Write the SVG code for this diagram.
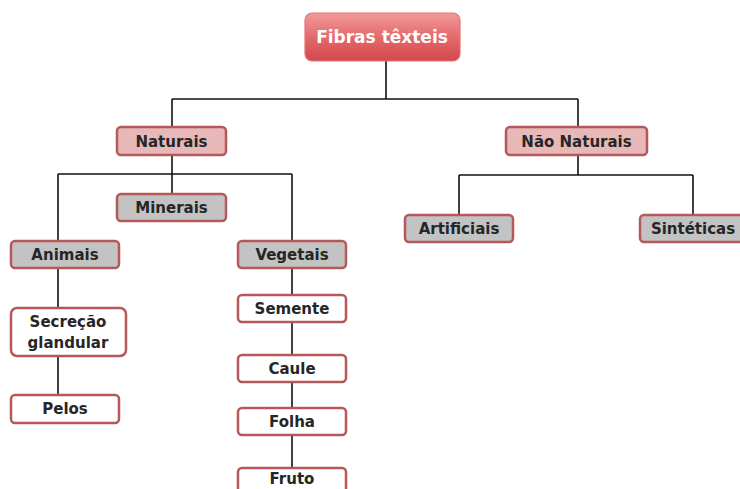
<svg xmlns="http://www.w3.org/2000/svg" width="740" height="489" viewBox="0 0 740 489">
<defs>
<linearGradient id="rootGrad" x1="0" y1="0" x2="0" y2="1">
<stop offset="0" stop-color="#f39a9a"/>
<stop offset="0.5" stop-color="#e36a6c"/>
<stop offset="1" stop-color="#d2484c"/>
</linearGradient>
</defs>
<style>
.box{stroke:#b6575a;stroke-width:2.5}
.pink{fill:#e6b9b8}
.gray{fill:#c3c3c3}
.white{fill:#ffffff}
.lbl{font-family:"DejaVu Sans","Liberation Sans",sans-serif;font-weight:bold;font-size:15px;fill:#262626;text-anchor:middle}
.title{font-family:"DejaVu Sans","Liberation Sans",sans-serif;font-weight:bold;font-size:17px;fill:#ffffff;text-anchor:middle}
.conn line{stroke:#111;stroke-width:1.6}
</style>
<rect width="740" height="489" fill="#ffffff"/>
<g class="conn">
<line x1="386" y1="61" x2="386" y2="99"/>
<line x1="172" y1="99" x2="578" y2="99"/>
<line x1="172" y1="99" x2="172" y2="127"/>
<line x1="578" y1="99" x2="578" y2="127"/>
<line x1="172" y1="155" x2="172" y2="194"/>
<line x1="58" y1="174" x2="292" y2="174"/>
<line x1="58" y1="174" x2="58" y2="241"/>
<line x1="292" y1="174" x2="292" y2="241"/>
<line x1="58" y1="268" x2="58" y2="308"/>
<line x1="58" y1="356" x2="58" y2="395"/>
<line x1="292" y1="268" x2="292" y2="295"/>
<line x1="292" y1="322" x2="292" y2="355"/>
<line x1="292" y1="382" x2="292" y2="408"/>
<line x1="292" y1="435" x2="292" y2="468"/>
<line x1="578" y1="155" x2="578" y2="175"/>
<line x1="459" y1="175" x2="693" y2="175"/>
<line x1="459" y1="175" x2="459" y2="215"/>
<line x1="693" y1="175" x2="693" y2="215"/>
</g>
<g id="fibras">
<rect x="305" y="13" width="155" height="48" rx="7" fill="url(#rootGrad)" stroke="#e27476" stroke-width="1.2"/>
<text class="title" x="382" y="43" font-size="19">Fibras têxteis</text>
</g>
<g id="naturais">
<rect class="box pink" x="117" y="127" width="109" height="28" rx="4"/>
<text class="lbl" x="171.5" y="146.5">Naturais</text>
</g>
<g id="nao-naturais">
<rect class="box pink" x="506" y="127" width="141" height="28" rx="4"/>
<text class="lbl" x="576.5" y="146.5">Não Naturais</text>
</g>
<g id="minerais">
<rect class="box gray" x="117" y="194" width="109" height="27" rx="4"/>
<text class="lbl" x="171.5" y="213">Minerais</text>
</g>
<g id="animais">
<rect class="box gray" x="11" y="241" width="108" height="27" rx="4"/>
<text class="lbl" x="65" y="260">Animais</text>
</g>
<g id="vegetais">
<rect class="box gray" x="238" y="241" width="108" height="27" rx="4"/>
<text class="lbl" x="292" y="260">Vegetais</text>
</g>
<g id="artificiais">
<rect class="box gray" x="405" y="215" width="108" height="27" rx="4"/>
<text class="lbl" x="459" y="234">Artificiais</text>
</g>
<g id="sinteticas">
<rect class="box gray" x="640" y="215" width="110" height="27" rx="4"/>
<text class="lbl" x="693" y="234">Sintéticas</text>
</g>
<g id="secrecao">
<rect class="box white" x="11" y="308" width="115" height="48" rx="6"/>
<text class="lbl" x="68" y="327">Secreção</text>
<text class="lbl" x="68" y="348">glandular</text>
</g>
<g id="pelos">
<rect class="box white" x="11" y="395" width="108" height="28" rx="4"/>
<text class="lbl" x="65" y="414">Pelos</text>
</g>
<g id="semente">
<rect class="box white" x="238" y="295" width="108" height="27" rx="4"/>
<text class="lbl" x="292" y="314">Semente</text>
</g>
<g id="caule">
<rect class="box white" x="238" y="355" width="108" height="27" rx="4"/>
<text class="lbl" x="292" y="374">Caule</text>
</g>
<g id="folha">
<rect class="box white" x="238" y="408" width="108" height="27" rx="4"/>
<text class="lbl" x="292" y="427">Folha</text>
</g>
<g id="fruto">
<rect class="box white" x="238" y="468" width="108" height="27" rx="4"/>
<text class="lbl" x="292" y="484">Fruto</text>
</g>
</svg>
